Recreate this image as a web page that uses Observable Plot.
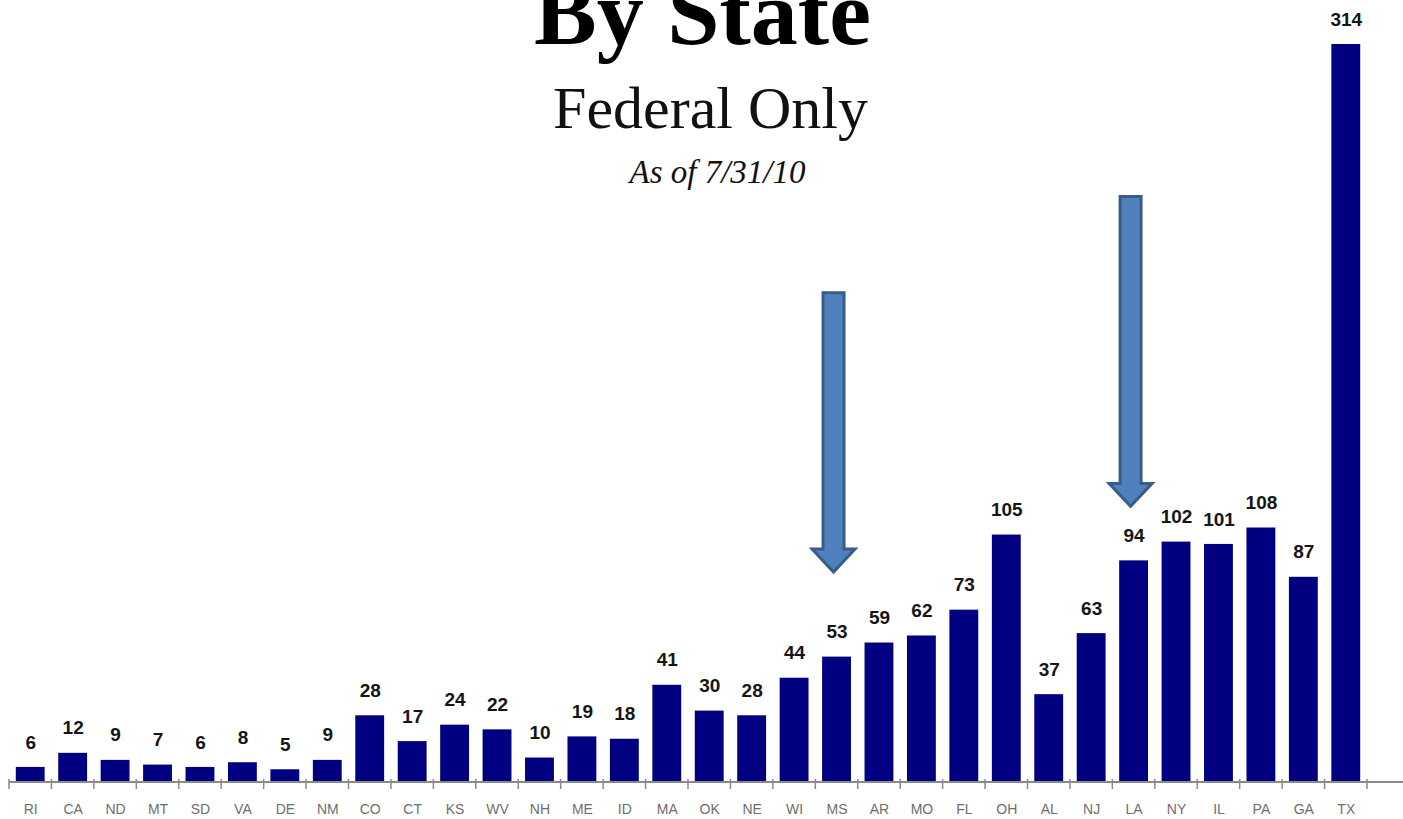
<!DOCTYPE html>
<html>
<head>
<meta charset="utf-8">
<script src="https://cdn.jsdelivr.net/npm/d3@7"></script>
<script src="https://cdn.jsdelivr.net/npm/@observablehq/plot@0.6"></script>
<style>
  html, body { margin: 0; padding: 0; background: #fff; overflow: hidden; }
  #chart { width: 1403px; height: 819px; }
</style>
</head>
<body>
<div id="chart"></div>
<script>
const states = ["RI","CA","ND","MT","SD","VA","DE","NM","CO","CT","KS","WV","NH","ME","ID","MA","OK","NE","WI","MS","AR","MO","FL","OH","AL","NJ","LA","NY","IL","PA","GA","TX"];
const counts = [6,12,9,7,6,8,5,9,28,17,24,22,10,19,18,41,30,28,44,53,59,62,73,105,37,63,94,102,101,108,87,314];

const titleText = "By State";
const subtitleText = "Federal Only";
const dateText = "As of 7/31/10";

// annotation arrows (in data units): state, top value, tip value
const arrowStates = ["MS", "LA"];
const arrowTop = [208, 249];
const arrowTip = [89, 117];

const data = states.map((s, i) => ({state: s, value: counts[i]}));
const arrows = arrowStates.map((s, i) => ({state: s, top: arrowTop[i], tip: arrowTip[i]}));

function decor(index, scales, values, dimensions) {
  const x = scales.x, y = scales.y;
  const bw = x.bandwidth(), step = x.step();
  const gap = (step - bw) / 2;
  const y0 = y(0);
  const g = d3.create("svg:g");
  // baseline axis line
  g.append("line")
    .attr("x1", x(states[0]) - gap).attr("x2", dimensions.width)
    .attr("y1", y0 + 1).attr("y2", y0 + 1)
    .attr("stroke", "#8a8a8a").attr("stroke-width", 2);
  // boundary ticks
  const bounds = states.map(s => x(s) - gap);
  bounds.push(x(states[states.length - 1]) + bw + gap);
  g.selectAll("line.tk").data(bounds).join("line")
    .attr("class", "tk")
    .attr("x1", d => d).attr("x2", d => d)
    .attr("y1", y0 - 2).attr("y2", y0 + 8)
    .attr("stroke", "#8a8a8a").attr("stroke-width", 1.5);
  // block arrows
  const shaftHalf = 10.5, headHalf = 21.5, headH = 23;
  for (const a of arrows) {
    const cx = x(a.state) + bw / 2 - 3;
    const yt = y(a.top), yp = y(a.tip);
    const yh = yp - headH;
    const p = `M${cx - shaftHalf},${yt} L${cx + shaftHalf},${yt} L${cx + shaftHalf},${yh} L${cx + headHalf},${yh} L${cx},${yp} L${cx - headHalf},${yh} L${cx - shaftHalf},${yh} Z`;
    g.append("path").attr("d", p)
      .attr("fill", "#4f81bd").attr("stroke", "#385d8a").attr("stroke-width", 3)
      .attr("stroke-linejoin", "miter");
  }
  return g.node();
}

const plot = Plot.plot({
  width: 1403,
  height: 819,
  marginLeft: 9,
  marginRight: 36,
  marginTop: 44,
  marginBottom: 38,
  style: {background: "#fff", fontFamily: "'Liberation Sans', Arial, sans-serif"},
  x: {domain: states, paddingInner: 0.32, paddingOuter: 0.16, round: false, axis: null, label: null},
  y: {domain: [0, 314], axis: null},
  marks: [
    Plot.barY(data, {x: "state", y: "value", fill: "#000080"}),
    decor,
    Plot.axisX({tickSize: 0, tickPadding: 23, fontSize: 14, fill: "#6e6e6e", label: null,
      fontFamily: "'Liberation Sans', Arial, sans-serif", letterSpacing: 1}),
    Plot.text(data, {x: "state", y: "value", text: d => String(d.value), dy: -25,
      fontSize: 19, fontWeight: "bold", fill: "#151515",
      fontFamily: "'Liberation Sans', Arial, sans-serif"}),
    Plot.text([titleText], {frameAnchor: "top", text: d => d, lineAnchor: "bottom",
      dx: 14, dy: -1, fontSize: 94, fontWeight: "bold", fill: "#000",
      fontFamily: "'Liberation Serif', 'Times New Roman', serif"}),
    Plot.text([subtitleText], {frameAnchor: "top", text: d => d, lineAnchor: "bottom",
      dx: 22, dy: 83, fontSize: 60, fill: "#111",
      fontFamily: "'Liberation Serif', 'Times New Roman', serif"}),
    Plot.text([dateText], {frameAnchor: "top", text: d => d, lineAnchor: "bottom",
      dx: 29, dy: 138, fontSize: 33, fontStyle: "italic", fill: "#111",
      fontFamily: "'Liberation Serif', 'Times New Roman', serif"})
  ]
});
document.getElementById("chart").appendChild(plot);
</script>
</body>
</html>
